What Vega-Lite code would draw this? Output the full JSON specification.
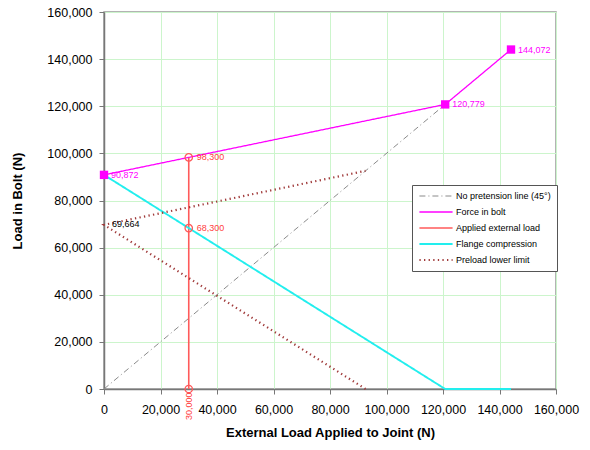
{
  "$schema": "https://vega.github.io/schema/vega-lite/v6.json",
  "width": 452,
  "height": 377,
  "autosize": "none",
  "padding": {"left": 104, "top": 12, "right": 34, "bottom": 61},
  "background": "white",
  "config": {
    "font": "Liberation Sans",
    "view": {"stroke": "#9a9a9a", "strokeWidth": 1.5},
    "axis": {
      "labelFont": "Liberation Sans",
      "labelFontSize": 12.5,
      "labelColor": "#000",
      "titleFont": "Liberation Sans",
      "titleFontSize": 13,
      "titleFontWeight": "bold",
      "titleColor": "#000",
      "domainColor": "#777",
      "domainWidth": 1.5,
      "tickColor": "#777",
      "tickSize": 5,
      "gridColor": "#ccf5cc",
      "gridWidth": 1
    }
  },
  "datasets": {
    "lines": [
      {"series": "No pretension line (45°)", "x": 0, "y": 0, "ord": 1},
      {"series": "No pretension line (45°)", "x": 120779, "y": 120779, "ord": 2},
      {"series": "Force in bolt", "x": 0, "y": 90872, "ord": 1},
      {"series": "Force in bolt", "x": 120779, "y": 120779, "ord": 2},
      {"series": "Force in bolt", "x": 144072, "y": 144072, "ord": 3},
      {"series": "Applied external load", "x": 30000, "y": 0, "ord": 1},
      {"series": "Applied external load", "x": 30000, "y": 68300, "ord": 2},
      {"series": "Applied external load", "x": 30000, "y": 98300, "ord": 3},
      {"series": "Flange compression", "x": 0, "y": 90872, "ord": 1},
      {"series": "Flange compression", "x": 120779, "y": 0, "ord": 2},
      {"series": "Flange compression", "x": 144072, "y": 0, "ord": 3},
      {"series": "Preload lower limit", "x": 92590, "y": 0, "ord": 1},
      {"series": "Preload lower limit", "x": 0, "y": 69664, "ord": 2},
      {"series": "Preload lower limit", "x": 92590, "y": 92590, "ord": 3}
    ],
    "labels": [
      {"grp": "bolt", "x": 0, "y": 90872, "label": "90,872"},
      {"grp": "bolt", "x": 120779, "y": 120779, "label": "120,779"},
      {"grp": "bolt", "x": 144072, "y": 144072, "label": "144,072"},
      {"grp": "applied", "x": 30000, "y": 98300, "label": "98,300"},
      {"grp": "applied", "x": 30000, "y": 68300, "label": "68,300"},
      {"grp": "preload", "x": 0, "y": 69664, "label": "69,664"},
      {"grp": "xval", "x": 30000, "y": -1500, "label": "30,000"}
    ]
  },
  "encoding": {
    "x": {
      "field": "x",
      "type": "quantitative",
      "scale": {"domain": [0, 160000], "nice": false},
      "axis": {
        "values": [0, 20000, 40000, 60000, 80000, 100000, 120000, 140000, 160000],
        "format": ",d",
        "labelPadding": 9,
        "titlePadding": 11,
        "labelFlush": false,
        "title": "External Load Applied to Joint (N)"
      }
    },
    "y": {
      "field": "y",
      "type": "quantitative",
      "scale": {"domain": [0, 160000], "nice": false},
      "axis": {
        "values": [0, 20000, 40000, 60000, 80000, 100000, 120000, 140000, 160000],
        "format": ",d",
        "labelPadding": 7,
        "titlePadding": 22,
        "labelFlush": false,
        "title": "Load in Bolt (N)"
      }
    }
  },
  "layer": [
    {
      "data": {"name": "lines"},
      "mark": {"type": "line", "clip": false},
      "encoding": {
        "color": {
          "field": "series",
          "type": "nominal",
          "scale": {
            "domain": ["No pretension line (45°)", "Force in bolt", "Applied external load", "Flange compression", "Preload lower limit"],
            "range": ["#8a8a8a", "#ff00ff", "#ff5a5a", "#22eeee", "#a03a3a"]
          },
          "legend": {
            "title": null,
            "orient": "none",
            "legendX": 308,
            "legendY": 173,
            "symbolType": "stroke",
            "symbolSize": 1100,
            "symbolStrokeWidth": 1.5,
            "labelFontSize": 9,
            "labelFont": "Liberation Sans",
            "labelColor": "#000",
            "rowPadding": 6,
            "clipHeight": 10,
            "padding": 6,
            "fillColor": "white",
            "strokeColor": "#555",
            "labelOffset": 2
          }
        },
        "strokeDash": {
          "field": "series",
          "type": "nominal",
          "scale": {
            "domain": ["No pretension line (45°)", "Force in bolt", "Applied external load", "Flange compression", "Preload lower limit"],
            "range": [[6, 3, 1, 3], [1, 0], [1, 0], [1, 0], [1.3, 3.3]]
          },
          "legend": {
            "title": null,
            "orient": "none",
            "legendX": 308,
            "legendY": 173,
            "symbolType": "stroke",
            "symbolSize": 1100,
            "symbolStrokeWidth": 1.5,
            "labelFontSize": 9,
            "labelFont": "Liberation Sans",
            "labelColor": "#000",
            "rowPadding": 6,
            "clipHeight": 10,
            "padding": 6,
            "fillColor": "white",
            "strokeColor": "#555",
            "labelOffset": 2
          }
        },
        "strokeWidth": {
          "field": "series",
          "type": "nominal",
          "scale": {
            "domain": ["No pretension line (45°)", "Force in bolt", "Applied external load", "Flange compression", "Preload lower limit"],
            "range": [1, 2.2, 1.5, 2.2, 1.2]
          },
          "legend": null
        },
        "order": {"field": "ord", "type": "quantitative"}
      }
    },
    {
      "data": {"name": "lines"},
      "transform": [{"filter": "datum.series === 'Force in bolt'"}],
      "mark": {"type": "point", "shape": "square", "filled": true, "color": "#ff00ff", "size": 70, "opacity": 1, "clip": false}
    },
    {
      "data": {"name": "lines"},
      "transform": [{"filter": "datum.series === 'Applied external load'"}],
      "mark": {"type": "point", "shape": "circle", "filled": false, "color": "#ff5a5a", "size": 55, "strokeWidth": 1.3, "opacity": 1, "clip": false}
    },
    {
      "data": {"name": "labels"},
      "transform": [{"filter": "datum.grp === 'bolt'"}],
      "mark": {"type": "text", "align": "left", "baseline": "middle", "dx": 7, "fontSize": 9, "color": "#ff00ff", "font": "Liberation Sans"},
      "encoding": {"text": {"field": "label"}}
    },
    {
      "data": {"name": "labels"},
      "transform": [{"filter": "datum.grp === 'applied'"}],
      "mark": {"type": "text", "align": "left", "baseline": "middle", "dx": 8, "fontSize": 9, "color": "#ff4040", "font": "Liberation Sans"},
      "encoding": {"text": {"field": "label"}}
    },
    {
      "data": {"name": "labels"},
      "transform": [{"filter": "datum.grp === 'preload'"}],
      "mark": {"type": "text", "align": "left", "baseline": "middle", "dx": 8, "dy": -1, "fontSize": 9, "color": "#000", "font": "Liberation Sans"},
      "encoding": {"text": {"field": "label"}}
    },
    {
      "data": {"name": "labels"},
      "transform": [{"filter": "datum.grp === 'xval'"}],
      "mark": {"type": "text", "align": "right", "baseline": "middle", "angle": 270, "fontSize": 9, "color": "#ff4040", "font": "Liberation Sans"},
      "encoding": {"text": {"field": "label"}}
    }
  ]
}
